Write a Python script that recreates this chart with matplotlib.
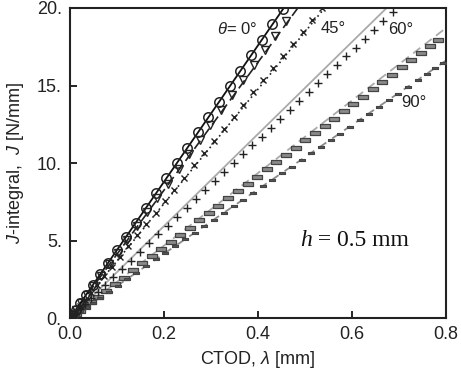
import matplotlib
matplotlib.use("Agg")
import matplotlib.pyplot as plt

plt.rcParams['font.family'] = ['Liberation Sans', 'DejaVu Sans']
plt.rcParams['mathtext.fontset'] = 'custom'
plt.rcParams['mathtext.rm'] = 'Liberation Sans'
plt.rcParams['mathtext.it'] = 'Liberation Sans:italic'

# theta = 0 deg (circles, solid fit) and (triangles, dashed fit)
circ_lam = [0.000, 0.005, 0.012, 0.022, 0.034, 0.048, 0.064, 0.081, 0.099, 0.119, 0.140, 0.161, 0.183,
            0.205, 0.227, 0.249, 0.272, 0.294, 0.317, 0.340, 0.362, 0.385, 0.408, 0.431, 0.453]
circ_J = [0.0, 0.22, 0.53, 0.97, 1.50, 2.11, 2.82, 3.56, 4.36, 5.24, 6.16, 7.08, 8.05,
          9.02, 9.99, 10.96, 11.97, 12.94, 13.95, 14.96, 15.93, 16.94, 17.95, 18.96, 19.93]
tri_lam = [0.000, 0.005, 0.012, 0.023, 0.035, 0.049, 0.065, 0.083, 0.101, 0.121, 0.142, 0.164, 0.186,
           0.208, 0.231, 0.253, 0.276, 0.299, 0.322, 0.345, 0.368, 0.391, 0.414, 0.437, 0.460]
tri_J = [0.0, 0.21, 0.50, 0.96, 1.46, 2.04, 2.71, 3.46, 4.21, 5.05, 5.92, 6.84, 7.76,
         8.67, 9.63, 10.55, 11.51, 12.47, 13.43, 14.39, 15.35, 16.30, 17.26, 18.22, 19.18]

# theta = 45 deg (crosses)
x_lam = [0.000, 0.005, 0.012, 0.021, 0.032, 0.044, 0.058, 0.073, 0.089, 0.106, 0.124, 0.143, 0.162,
         0.182, 0.202, 0.222, 0.243, 0.264, 0.285, 0.306, 0.327, 0.348, 0.369, 0.390, 0.411, 0.432,
         0.453, 0.474, 0.495, 0.515, 0.536]
x_J = [0.0, 0.19, 0.45, 0.78, 1.19, 1.64, 2.16, 2.72, 3.32, 3.95, 4.63, 5.33, 6.04,
       6.79, 7.53, 8.28, 9.06, 9.85, 10.63, 11.41, 12.20, 12.98, 13.76, 14.55, 15.33, 16.11,
       16.90, 17.68, 18.46, 19.21, 19.99]

# theta = 60 deg (pluses)
p_lam = [0.000, 0.005, 0.012, 0.021, 0.032, 0.045, 0.059, 0.075, 0.092, 0.110, 0.129, 0.148, 0.168,
         0.188, 0.208, 0.228, 0.248, 0.268, 0.288, 0.308, 0.328, 0.348, 0.368, 0.388, 0.408, 0.428,
         0.448, 0.468, 0.488, 0.508, 0.528, 0.548, 0.568, 0.588, 0.608, 0.628, 0.648, 0.667, 0.687]
p_J = [0.0, 0.14, 0.34, 0.60, 0.92, 1.29, 1.69, 2.15, 2.64, 3.16, 3.70, 4.25, 4.82,
       5.40, 5.97, 6.54, 7.12, 7.69, 8.27, 8.84, 9.41, 9.99, 10.56, 11.14, 11.71, 12.28,
       12.86, 13.43, 14.01, 14.58, 15.15, 15.73, 16.30, 16.88, 17.45, 18.02, 18.60, 19.14, 19.72]

# theta = 90 deg (two dash-marker series)
da_lam = [0.000, 0.005, 0.012, 0.021, 0.032, 0.045, 0.060, 0.077, 0.095, 0.114, 0.134, 0.154, 0.174,
          0.194, 0.214, 0.234, 0.255, 0.275, 0.296, 0.316, 0.337, 0.357, 0.378, 0.398, 0.419, 0.439,
          0.460, 0.480, 0.501, 0.521, 0.542, 0.562, 0.583, 0.603, 0.624, 0.644, 0.665, 0.685, 0.706,
          0.726, 0.747, 0.767, 0.783]
da_J = [0.0, 0.11, 0.27, 0.48, 0.73, 1.03, 1.37, 1.76, 2.18, 2.61, 3.07, 3.53, 3.98,
        4.44, 4.90, 5.36, 5.84, 6.30, 6.78, 7.24, 7.72, 8.18, 8.66, 9.11, 9.60, 10.05,
        10.53, 10.99, 11.47, 11.93, 12.41, 12.87, 13.35, 13.81, 14.29, 14.75, 15.23, 15.69, 16.17,
        16.63, 17.11, 17.56, 17.93]
db_lam = [0.000, 0.005, 0.012, 0.022, 0.034, 0.048, 0.064, 0.082, 0.101, 0.121, 0.141, 0.162, 0.183,
          0.203, 0.224, 0.245, 0.265, 0.286, 0.307, 0.327, 0.348, 0.369, 0.389, 0.410, 0.431, 0.451,
          0.472, 0.493, 0.513, 0.534, 0.555, 0.575, 0.596, 0.617, 0.637, 0.658, 0.679, 0.699, 0.720,
          0.741, 0.761, 0.778, 0.794]
db_J = [0.0, 0.10, 0.25, 0.46, 0.70, 0.99, 1.32, 1.70, 2.09, 2.50, 2.92, 3.35, 3.79,
        4.20, 4.64, 5.07, 5.49, 5.92, 6.35, 6.77, 7.20, 7.64, 8.05, 8.49, 8.92, 9.34,
        9.77, 10.21, 10.62, 11.05, 11.49, 11.90, 12.34, 12.77, 13.19, 13.62, 14.06, 14.47, 14.90,
        15.34, 15.75, 16.10, 16.44]

# fitted straight lines (end points)
fit0_lam, fit0_J = [0, 0.455], [0, 20.0]
fit0b_lam, fit0b_J = [0, 0.485], [0, 20.0]
fit45_lam, fit45_J = [0, 0.542], [0, 20.0]
fit60_lam, fit60_J = [0, 0.674], [0, 20.0]
fit90a_lam, fit90a_J = [0, 0.8], [0, 18.7]
fit90b_lam, fit90b_J = [0, 0.8], [0, 16.6]

fig = plt.figure(figsize=(4.61, 3.80), dpi=100)
ax = fig.add_axes([0.152, 0.163, 0.815, 0.816])

ax.plot(fit90a_lam, fit90a_J, color='#aaaaaa', lw=1.3, ls=(0, (5, 3)), zorder=2)
ax.plot(fit90b_lam, fit90b_J, color='#8a8a8a', lw=1.3, ls=(0, (4, 4)), zorder=2)
ax.plot(fit60_lam, fit60_J, color='#aaaaaa', lw=1.3, ls='-', zorder=2)
ax.plot(fit45_lam, fit45_J, color='#222222', lw=1.2, ls=(0, (1, 2)), zorder=2)
ax.plot(fit0b_lam, fit0b_J, color='#222222', lw=1.2, ls=(0, (6, 3)), zorder=2)
ax.plot(fit0_lam, fit0_J, color='#111111', lw=1.3, ls='-', zorder=2)

rect = [(-1, -0.32), (1, -0.32), (1, 0.32), (-1, 0.32), (-1, -0.32)]
ax.plot(da_lam, da_J, ls='none', marker=rect, ms=7, mfc='#8a8a8a', mec='#444444', mew=0.9, zorder=3)
ax.plot(db_lam, db_J, ls='none', marker=rect, ms=4.2, mfc='#555555', mec='#444444', mew=0.8, zorder=3)
ax.plot(p_lam, p_J, ls='none', marker='+', ms=6, mec='#222222', mew=1.0, zorder=3)
ax.plot(x_lam, x_J, ls='none', marker='x', ms=4.5, mec='#222222', mew=1.0, zorder=3)
ax.plot(tri_lam, tri_J, ls='none', marker='v', ms=6, mfc='none', mec='#222222', mew=1.0, zorder=3)
ax.plot(circ_lam, circ_J, ls='none', marker='o', ms=6.8, mfc='none', mec='#222222', mew=1.1, zorder=4)

ax.set_xlim(0, 0.8)
ax.set_ylim(0, 20)
ax.set_xticks([0.0, 0.2, 0.4, 0.6, 0.8])
ax.set_xticklabels(['0.0', '0.2', '0.4', '0.6', '0.8'])
ax.set_yticks([0, 5, 10, 15, 20])
ax.set_yticklabels(['0.', '5.', '10.', '15.', '20.'])
ax.tick_params(direction='in', length=5, width=1.2, labelsize=13, labelcolor='#222222', pad=6)
for s in ax.spines.values():
    s.set_linewidth(1.5)
    s.set_color('#222222')

ax.set_xlabel(r'CTOD, $\lambda$ [mm]', fontsize=13, color='#222222', labelpad=4)
ax.set_ylabel(r'$J$-integral,  $J$ [N/mm]', fontsize=13, color='#222222', labelpad=8)

ax.text(0.313, 18.65, r'$\theta$= 0°', fontsize=12, va='center', ha='left', color='#222222')
ax.text(0.534, 18.7, '45°', fontsize=12, va='center', ha='left', color='#222222')
ax.text(0.677, 18.6, '60°', fontsize=12, va='center', ha='left', color='#222222')
ax.text(0.706, 13.9, '90°', fontsize=12, va='center', ha='left', color='#222222')

ax.text(0.515, 5.0, 'h', fontsize=17, family='Liberation Serif', style='italic',
        va='center', ha='right', color='#111111')
ax.text(0.515, 5.0, ' = 0.5 mm', fontsize=17, family='Liberation Serif',
        va='center', ha='left', color='#111111')

fig.savefig('out.png', dpi=100)
